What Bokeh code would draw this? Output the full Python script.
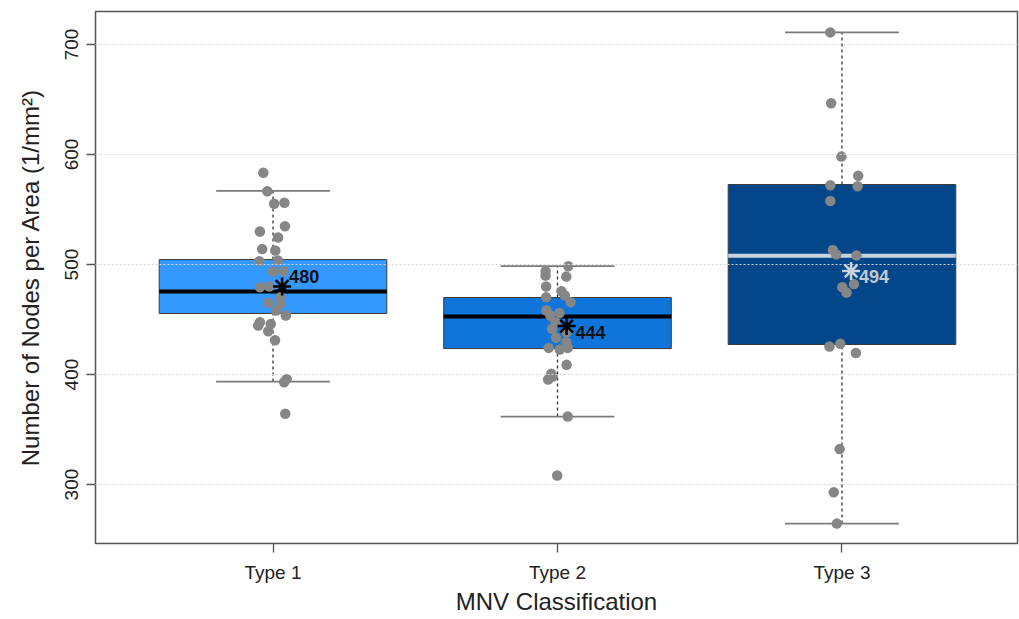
from bokeh.plotting import figure
from bokeh.models import ColumnDataSource, FixedTicker, Range1d
from bokeh.embed import file_html
from bokeh.resources import INLINE
from bokeh.core.properties import value

# ---------------- data ----------------
categories = ["Type 1", "Type 2", "Type 3"]
positions = [1, 2, 3]
q1 = [455.5, 423.6, 427.3]
median = [475.5, 452.7, 508.0]
q3 = [504.5, 470.0, 572.7]
whisker_low = [393.6, 361.8, 264.5]
whisker_high = [567.0, 498.5, 711.0]
means = [480, 444, 494]
mean_labels = ["480", "444", "494"]

type1_values = [583.4, 566.6, 555.2, 556.1, 534.8, 530.0, 524.5, 514.0, 512.7, 503.0,
                503.6, 493.6, 493.9, 479.4, 480.0, 470.3, 465.2, 464.3, 458.2, 453.6,
                447.5, 444.5, 446.0, 439.4, 431.2, 396.0, 393.0, 364.3]
type1_jitter = [-0.034, -0.020, 0.004, 0.040, 0.042, -0.046, 0.018, -0.038, 0.008, -0.048,
                0.017, -0.001, 0.036, -0.046, -0.013, 0.025, -0.017, 0.025, 0.011, 0.045,
                -0.046, -0.052, -0.008, -0.017, 0.007, 0.048, 0.039, 0.043]

type2_values = [498.5, 494.0, 490.0, 489.0, 480.0, 475.7, 471.8, 470.3, 465.8, 458.2,
                456.0, 453.6, 447.6, 441.5, 438.5, 433.3, 429.4, 424.2, 422.7, 424.2,
                408.8, 400.6, 398.2, 395.5, 361.8, 308.2]
type2_jitter = [0.038, -0.042, -0.042, 0.031, -0.040, 0.014, 0.026, -0.040, 0.046, -0.039,
                0.007, -0.025, -0.007, -0.019, 0.032, -0.005, 0.031, -0.031, 0.008, 0.036,
                0.032, -0.022, -0.017, -0.033, 0.036, -0.001]

type3_values = [711.0, 646.6, 598.1, 580.7, 572.1, 571.1, 557.7, 513.2, 509.2, 508.3,
                482.2, 479.4, 474.5, 425.5, 427.9, 419.6, 332.2, 292.9, 264.5]
type3_jitter = [-0.041, -0.038, -0.002, 0.057, -0.041, 0.055, -0.041, -0.032, -0.020, 0.051,
                0.042, 0.001, 0.016, -0.044, -0.006, 0.049, -0.008, -0.029, -0.018]

y_ticks = [300, 400, 500, 600, 700]

# ---------------- styles ----------------
box_colors = ["#3399FF", "#0F75DB", "#03478A"]
median_colors = ["#000000", "#000000", "#C9D3DD"]
mean_colors = ["#000000", "#000000", "#C9D3DD"]
label_colors = ["#111111", "#111111", "#C4C9CF"]
label_y_offsets = [-10, 6, 5]
label_x_offsets = [7, 9, 8]
MEAN_SHIFT = 0.032
FONT = "Liberation Sans"
HALF = 0.4
CAP = 0.2

p = figure(width=1019, height=619, output_backend="svg", toolbar_location=None,
           x_range=Range1d(0.376, 3.617), y_range=Range1d(246.4, 730.0),
           min_border_left=95, min_border_right=2, min_border_top=11, min_border_bottom=76)
p.background_fill_color = "white"
p.border_fill_color = "white"
p.outline_line_color = "#555555"
p.outline_line_width = 1.5

src = ColumnDataSource(dict(
    x=positions,
    xm=[x + MEAN_SHIFT for x in positions],
    left=[x - HALF for x in positions], right=[x + HALF for x in positions],
    cl=[x - CAP for x in positions], cr=[x + CAP for x in positions],
    q1=q1, q3=q3, med=median, lo=whisker_low, hi=whisker_high,
    mean=means, lab=mean_labels, color=box_colors, mcol=median_colors,
    meancol=mean_colors, labcol=label_colors,
    xo=label_x_offsets, yo=label_y_offsets,
))

# whisker dashed lines
p.segment(x0="x", x1="x", y0="q3", y1="hi", source=src, line_color="#333333",
          line_width=1.3, line_dash="3 3")
p.segment(x0="x", x1="x", y0="lo", y1="q1", source=src, line_color="#333333",
          line_width=1.3, line_dash="3 3")
# caps
p.segment(x0="cl", x1="cr", y0="hi", y1="hi", source=src, line_color="#7A7A7A", line_width=1.8)
p.segment(x0="cl", x1="cr", y0="lo", y1="lo", source=src, line_color="#7A7A7A", line_width=1.8)
# boxes
p.quad(left="left", right="right", bottom="q1", top="q3", source=src,
       fill_color="color", line_color="#3A3A3A", line_width=1)
# medians
p.segment(x0="left", x1="right", y0="med", y1="med", source=src, line_color="mcol", line_width=4)

# jittered points
for pos, vals, jit in [(1, type1_values, type1_jitter), (2, type2_values, type2_jitter),
                       (3, type3_values, type3_jitter)]:
    p.scatter(x=[pos + j for j in jit], y=vals, size=10.5, fill_color="#868686",
              line_color=None)

# means
p.scatter(x="xm", y="mean", source=src, marker="asterisk", size=18, line_color="meancol",
          line_width=2.5)
p.text(x="xm", y="mean", text="lab", source=src, x_offset="xo", y_offset="yo",
       text_color="labcol", text_font=value(FONT), text_font_size="18px",
       text_font_style="bold", text_baseline="middle", text_align="left")

# axes
p.xaxis.ticker = FixedTicker(ticks=positions)
p.xaxis.major_label_overrides = {pos: c for pos, c in zip(positions, categories)}
p.yaxis.ticker = FixedTicker(ticks=y_ticks)
for ax in (p.xaxis[0], p.yaxis[0]):
    ax.axis_line_color = None
    ax.major_tick_line_color = "#555555"
    ax.major_tick_line_width = 1.3
    ax.major_tick_out = 9
    ax.major_tick_in = 0
    ax.minor_tick_line_color = None
    ax.major_label_text_font = FONT
    ax.major_label_text_font_size = "19px"
    ax.major_label_text_color = "#222222"
    ax.axis_label_text_font = FONT
    ax.axis_label_text_font_size = "24px"
    ax.axis_label_text_font_style = "normal"
    ax.axis_label_text_color = "#222222"
p.xaxis.axis_label = "MNV Classification"
p.yaxis.axis_label = "Number of Nodes per Area (1/mm²)"
p.yaxis.major_label_orientation = "vertical"
p.xaxis.major_label_standoff = 9
p.xaxis.axis_label_standoff = 2
p.yaxis.major_label_standoff = 8
p.yaxis.axis_label_standoff = 19

p.xgrid.grid_line_color = None
p.ygrid.ticker = FixedTicker(ticks=y_ticks)
p.ygrid.grid_line_color = "#D4D4D4"
p.ygrid.grid_line_dash = "2 2"
p.ygrid.grid_line_width = 1
p.ygrid.level = "annotation"

open("out.html", "w").write(file_html(p, INLINE))
